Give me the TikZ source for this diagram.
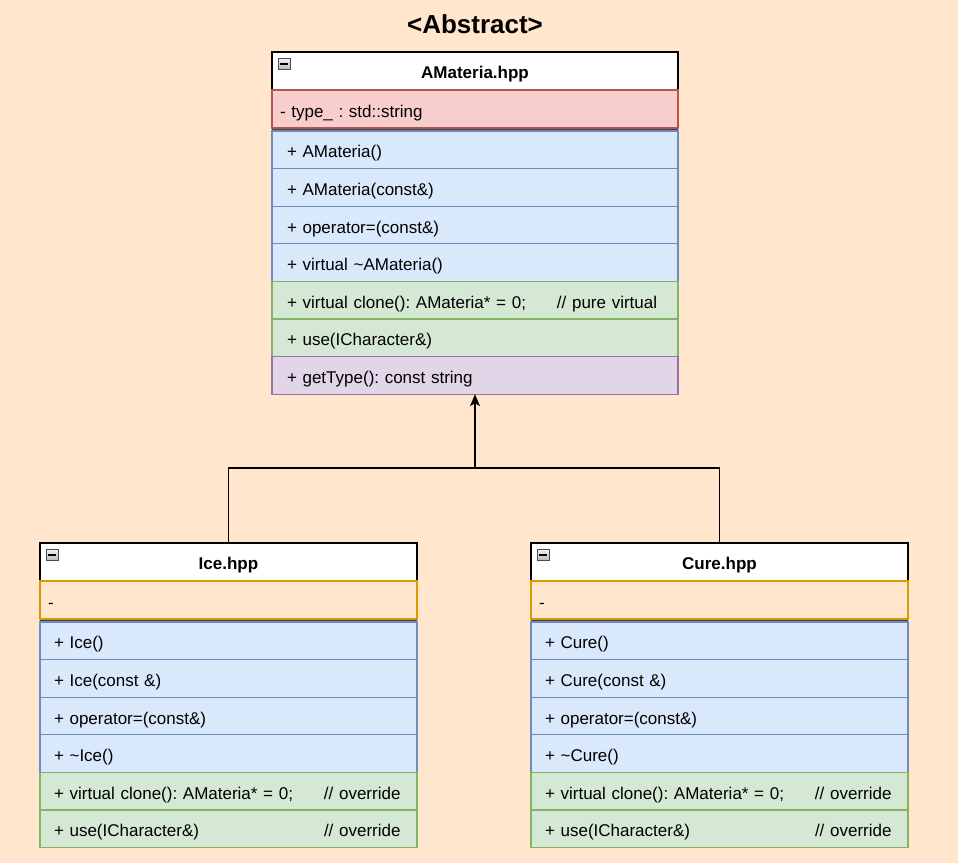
\documentclass[tikz,border=0pt]{standalone}
\usepackage{fontspec}
\setmainfont{Liberation Sans}
\usetikzlibrary{positioning,arrows.meta}
\definecolor{bgpeach}{HTML}{FFE6CC}
\definecolor{redf}{HTML}{F8CECC}\definecolor{redd}{HTML}{B85450}
\definecolor{bluef}{HTML}{DAE8FC}\definecolor{blued}{HTML}{6C8EBF}
\definecolor{greenf}{HTML}{D5E8D4}\definecolor{greend}{HTML}{82B366}
\definecolor{purplef}{HTML}{E1D5E7}\definecolor{purpled}{HTML}{9673A6}
\definecolor{oranged}{HTML}{D79B00}
\newcommand{\cmt}[2]{\makebox[270pt][l]{#1}#2}
\frenchspacing

\begin{document}
\begin{tikzpicture}[x=1pt, y=-1pt, font=\fontsize{17}{20}\selectfont, >=Stealth,
  row/.style={draw, line width=1.2pt, outer sep=0pt, minimum height=37.6pt, inner ysep=0pt, text height=16pt, text depth=0pt, align=left},
  head/.style={row, fill=white, draw=black, minimum height=38pt, text height=15pt, text depth=1pt, align=center, font=\fontsize{17}{20}\selectfont\bfseries},
  attr/.style={row, minimum height=38pt, inner xsep=8pt},
  meth/.style={row},
  wa/.style={text width=376pt, inner xsep=15pt},
  wa attr/.style={text width=390pt},
  wc/.style={text width=349pt, inner xsep=14pt},
  wc attr/.style={text width=361pt},
  cred/.style={fill=redf, draw=redd},
  cblue/.style={fill=bluef, draw=blued},
  cgreen/.style={fill=greenf, draw=greend},
  cpurple/.style={fill=purplef, draw=purpled},
  corange/.style={fill=bgpeach, draw=oranged},
  tog/.style={draw=gray!60!black, top color=gray!10, bottom color=gray!55, line width=0.6pt, minimum width=12pt, minimum height=11pt, inner sep=0pt, anchor=north west},
  sep/.style={line width=1.6pt, black!75}]
\path[fill=bgpeach, use as bounding box] (0,0) rectangle (958,863);
\node[font=\fontsize{26}{30}\selectfont\bfseries] (abs) at (475,24) {<Abstract>};
% abstract base class
\node[head, minimum width=406pt, anchor=north west] (amat) at (272,52) {AMateria.hpp};
\node[tog] (amtog) at ([shift={(6,6)}]amat.north west) {\rule{8pt}{1.6pt}};
\node[attr, wa attr, cred, below=0pt of amat] (aty) {- type\_ : std::string};
\node[meth, wa, cblue, below=3pt of aty] (a1) {+ AMateria()};
\node[meth, wa, cblue, below=0pt of a1] (a2) {+ AMateria(const\&)};
\node[meth, wa, cblue, below=0pt of a2] (a3) {+ operator=(const\&)};
\node[meth, wa, cblue, below=0pt of a3] (a4) {+ virtual \textasciitilde AMateria()};
\node[meth, wa, cgreen, below=0pt of a4] (a5) {\cmt{+ virtual clone(): AMateria* = 0;}{// pure virtual}};
\node[meth, wa, cgreen, below=0pt of a5] (a6) {+ use(ICharacter\&)};
\node[meth, wa, cpurple, below=0pt of a6] (a7) {+ getType(): const string};
\draw[sep] ([yshift=-1.5pt]aty.south west) -- ([yshift=-1.5pt]aty.south east);
% derived classes
\foreach \cls/\id/\xx in {Ice/ice/40, Cure/cure/531} {
  \node[head, minimum width=377pt, anchor=north west] (\id) at (\xx,543) {\cls.hpp};
  \node[tog] (\id tog) at ([shift={(6,6)}]\id.north west) {\rule{8pt}{1.6pt}};
  \node[attr, wc attr, corange, below=0pt of \id] (\id at) {-};
  \node[meth, wc, cblue, below=3pt of \id at] (\id 1) {+ \cls()};
  \node[meth, wc, cblue, below=0pt of \id 1] (\id 2) {+ \cls(const \&)};
  \node[meth, wc, cblue, below=0pt of \id 2] (\id 3) {+ operator=(const\&)};
  \node[meth, wc, cblue, below=0pt of \id 3] (\id 4) {+ \textasciitilde\cls()};
  \node[meth, wc, cgreen, below=0pt of \id 4] (\id 5) {\cmt{+ virtual clone(): AMateria* = 0;}{// override}};
  \node[meth, wc, cgreen, below=0pt of \id 5] (\id 6) {\cmt{+ use(ICharacter\&)}{// override}};
  \draw[sep] ([yshift=-1.5pt]\id at.south west) -- ([yshift=-1.5pt]\id at.south east);
}
\coordinate (join) at (475,468);
\draw[line width=1.2pt] (ice.north) |- (join) -| (cure.north);
\draw[line width=1.2pt, -{Stealth[length=12pt, width=10pt, inset=3pt]}] (join) -- (a7.south);
\end{tikzpicture}
\end{document}
